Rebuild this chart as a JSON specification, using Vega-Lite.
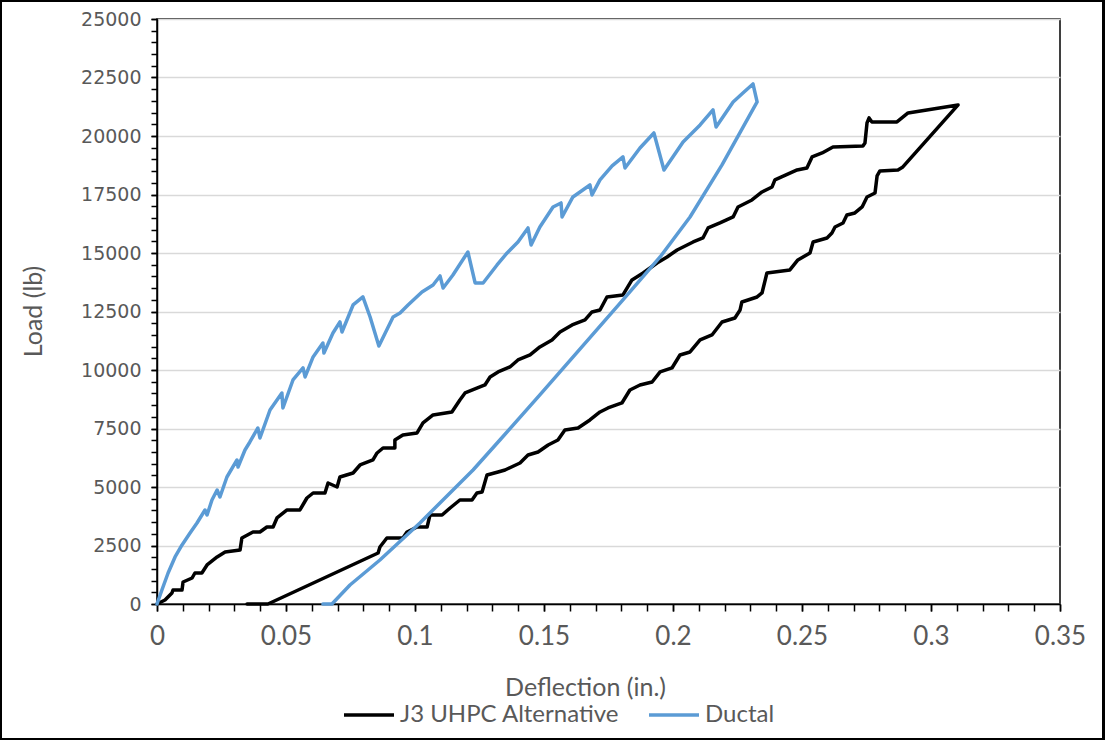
{
  "$schema": "https://vega.github.io/schema/vega-lite/v6.json",
  "width": 903,
  "height": 585,
  "autosize": {"type": "none"},
  "padding": {"left": 157, "top": 19, "right": 45, "bottom": 136},
  "background": "#ffffff",
  "config": {"view": {"stroke": "#000000", "strokeWidth": 1.5}},
  "data": {"values": [
    {"s": "J3 UHPC Alternative", "i": 1, "x": 0, "y": 0},
    {"s": "J3 UHPC Alternative", "i": 2, "x": 0.0031, "y": 171},
    {"s": "J3 UHPC Alternative", "i": 3, "x": 0.0058, "y": 470},
    {"s": "J3 UHPC Alternative", "i": 4, "x": 0.0062, "y": 598},
    {"s": "J3 UHPC Alternative", "i": 5, "x": 0.0097, "y": 598},
    {"s": "J3 UHPC Alternative", "i": 6, "x": 0.0101, "y": 940},
    {"s": "J3 UHPC Alternative", "i": 7, "x": 0.0136, "y": 1111},
    {"s": "J3 UHPC Alternative", "i": 8, "x": 0.0147, "y": 1325},
    {"s": "J3 UHPC Alternative", "i": 9, "x": 0.0174, "y": 1325},
    {"s": "J3 UHPC Alternative", "i": 10, "x": 0.0194, "y": 1667},
    {"s": "J3 UHPC Alternative", "i": 11, "x": 0.0233, "y": 2009},
    {"s": "J3 UHPC Alternative", "i": 12, "x": 0.0264, "y": 2222},
    {"s": "J3 UHPC Alternative", "i": 13, "x": 0.0322, "y": 2308},
    {"s": "J3 UHPC Alternative", "i": 14, "x": 0.0329, "y": 2821},
    {"s": "J3 UHPC Alternative", "i": 15, "x": 0.0372, "y": 3077},
    {"s": "J3 UHPC Alternative", "i": 16, "x": 0.0399, "y": 3077},
    {"s": "J3 UHPC Alternative", "i": 17, "x": 0.0426, "y": 3291},
    {"s": "J3 UHPC Alternative", "i": 18, "x": 0.045, "y": 3291},
    {"s": "J3 UHPC Alternative", "i": 19, "x": 0.0465, "y": 3676},
    {"s": "J3 UHPC Alternative", "i": 20, "x": 0.0504, "y": 4018},
    {"s": "J3 UHPC Alternative", "i": 21, "x": 0.0554, "y": 4018},
    {"s": "J3 UHPC Alternative", "i": 22, "x": 0.0581, "y": 4530},
    {"s": "J3 UHPC Alternative", "i": 23, "x": 0.0605, "y": 4744},
    {"s": "J3 UHPC Alternative", "i": 24, "x": 0.0651, "y": 4744},
    {"s": "J3 UHPC Alternative", "i": 25, "x": 0.0663, "y": 5172},
    {"s": "J3 UHPC Alternative", "i": 26, "x": 0.0698, "y": 5000},
    {"s": "J3 UHPC Alternative", "i": 27, "x": 0.0709, "y": 5428},
    {"s": "J3 UHPC Alternative", "i": 28, "x": 0.076, "y": 5599},
    {"s": "J3 UHPC Alternative", "i": 29, "x": 0.0787, "y": 5941},
    {"s": "J3 UHPC Alternative", "i": 30, "x": 0.0837, "y": 6155},
    {"s": "J3 UHPC Alternative", "i": 31, "x": 0.0853, "y": 6454},
    {"s": "J3 UHPC Alternative", "i": 32, "x": 0.0876, "y": 6667},
    {"s": "J3 UHPC Alternative", "i": 33, "x": 0.0922, "y": 6667},
    {"s": "J3 UHPC Alternative", "i": 34, "x": 0.0922, "y": 7009},
    {"s": "J3 UHPC Alternative", "i": 35, "x": 0.0953, "y": 7223},
    {"s": "J3 UHPC Alternative", "i": 36, "x": 0.1008, "y": 7309},
    {"s": "J3 UHPC Alternative", "i": 37, "x": 0.1031, "y": 7736},
    {"s": "J3 UHPC Alternative", "i": 38, "x": 0.107, "y": 8078},
    {"s": "J3 UHPC Alternative", "i": 39, "x": 0.1143, "y": 8206},
    {"s": "J3 UHPC Alternative", "i": 40, "x": 0.1174, "y": 8719},
    {"s": "J3 UHPC Alternative", "i": 41, "x": 0.1194, "y": 9018},
    {"s": "J3 UHPC Alternative", "i": 42, "x": 0.1271, "y": 9360},
    {"s": "J3 UHPC Alternative", "i": 43, "x": 0.1291, "y": 9702},
    {"s": "J3 UHPC Alternative", "i": 44, "x": 0.1322, "y": 9916},
    {"s": "J3 UHPC Alternative", "i": 45, "x": 0.1368, "y": 10129},
    {"s": "J3 UHPC Alternative", "i": 46, "x": 0.1399, "y": 10429},
    {"s": "J3 UHPC Alternative", "i": 47, "x": 0.1446, "y": 10642},
    {"s": "J3 UHPC Alternative", "i": 48, "x": 0.1484, "y": 10984},
    {"s": "J3 UHPC Alternative", "i": 49, "x": 0.1531, "y": 11283},
    {"s": "J3 UHPC Alternative", "i": 50, "x": 0.1562, "y": 11625},
    {"s": "J3 UHPC Alternative", "i": 51, "x": 0.1609, "y": 11924},
    {"s": "J3 UHPC Alternative", "i": 52, "x": 0.1659, "y": 12138},
    {"s": "J3 UHPC Alternative", "i": 53, "x": 0.1686, "y": 12480},
    {"s": "J3 UHPC Alternative", "i": 54, "x": 0.1717, "y": 12566},
    {"s": "J3 UHPC Alternative", "i": 55, "x": 0.1744, "y": 13121},
    {"s": "J3 UHPC Alternative", "i": 56, "x": 0.1806, "y": 13207},
    {"s": "J3 UHPC Alternative", "i": 57, "x": 0.1841, "y": 13848},
    {"s": "J3 UHPC Alternative", "i": 58, "x": 0.1884, "y": 14147},
    {"s": "J3 UHPC Alternative", "i": 59, "x": 0.1938, "y": 14574},
    {"s": "J3 UHPC Alternative", "i": 60, "x": 0.1977, "y": 14831},
    {"s": "J3 UHPC Alternative", "i": 61, "x": 0.2016, "y": 15130},
    {"s": "J3 UHPC Alternative", "i": 62, "x": 0.2078, "y": 15472},
    {"s": "J3 UHPC Alternative", "i": 63, "x": 0.2116, "y": 15643},
    {"s": "J3 UHPC Alternative", "i": 64, "x": 0.2136, "y": 16070},
    {"s": "J3 UHPC Alternative", "i": 65, "x": 0.2182, "y": 16284},
    {"s": "J3 UHPC Alternative", "i": 66, "x": 0.2233, "y": 16540},
    {"s": "J3 UHPC Alternative", "i": 67, "x": 0.2252, "y": 16968},
    {"s": "J3 UHPC Alternative", "i": 68, "x": 0.2306, "y": 17267},
    {"s": "J3 UHPC Alternative", "i": 69, "x": 0.2345, "y": 17609},
    {"s": "J3 UHPC Alternative", "i": 70, "x": 0.2384, "y": 17823},
    {"s": "J3 UHPC Alternative", "i": 71, "x": 0.2395, "y": 18122},
    {"s": "J3 UHPC Alternative", "i": 72, "x": 0.2481, "y": 18549},
    {"s": "J3 UHPC Alternative", "i": 73, "x": 0.2519, "y": 18635},
    {"s": "J3 UHPC Alternative", "i": 74, "x": 0.2539, "y": 19105},
    {"s": "J3 UHPC Alternative", "i": 75, "x": 0.2578, "y": 19276},
    {"s": "J3 UHPC Alternative", "i": 76, "x": 0.262, "y": 19532},
    {"s": "J3 UHPC Alternative", "i": 77, "x": 0.2736, "y": 19575},
    {"s": "J3 UHPC Alternative", "i": 78, "x": 0.2744, "y": 19703},
    {"s": "J3 UHPC Alternative", "i": 79, "x": 0.2752, "y": 20558},
    {"s": "J3 UHPC Alternative", "i": 80, "x": 0.276, "y": 20772},
    {"s": "J3 UHPC Alternative", "i": 81, "x": 0.2771, "y": 20600},
    {"s": "J3 UHPC Alternative", "i": 82, "x": 0.2868, "y": 20600},
    {"s": "J3 UHPC Alternative", "i": 83, "x": 0.2911, "y": 20985},
    {"s": "J3 UHPC Alternative", "i": 84, "x": 0.3105, "y": 21327},
    {"s": "J3 UHPC Alternative", "i": 85, "x": 0.2891, "y": 18677},
    {"s": "J3 UHPC Alternative", "i": 86, "x": 0.2872, "y": 18549},
    {"s": "J3 UHPC Alternative", "i": 87, "x": 0.2802, "y": 18506},
    {"s": "J3 UHPC Alternative", "i": 88, "x": 0.2791, "y": 18293},
    {"s": "J3 UHPC Alternative", "i": 89, "x": 0.2783, "y": 17566},
    {"s": "J3 UHPC Alternative", "i": 90, "x": 0.2752, "y": 17395},
    {"s": "J3 UHPC Alternative", "i": 91, "x": 0.2733, "y": 16968},
    {"s": "J3 UHPC Alternative", "i": 92, "x": 0.2705, "y": 16711},
    {"s": "J3 UHPC Alternative", "i": 93, "x": 0.2674, "y": 16625},
    {"s": "J3 UHPC Alternative", "i": 94, "x": 0.2659, "y": 16284},
    {"s": "J3 UHPC Alternative", "i": 95, "x": 0.2628, "y": 16113},
    {"s": "J3 UHPC Alternative", "i": 96, "x": 0.2616, "y": 15857},
    {"s": "J3 UHPC Alternative", "i": 97, "x": 0.2597, "y": 15643},
    {"s": "J3 UHPC Alternative", "i": 98, "x": 0.2543, "y": 15472},
    {"s": "J3 UHPC Alternative", "i": 99, "x": 0.2531, "y": 15002},
    {"s": "J3 UHPC Alternative", "i": 100, "x": 0.2484, "y": 14703},
    {"s": "J3 UHPC Alternative", "i": 101, "x": 0.2453, "y": 14275},
    {"s": "J3 UHPC Alternative", "i": 102, "x": 0.2364, "y": 14147},
    {"s": "J3 UHPC Alternative", "i": 103, "x": 0.2345, "y": 13292},
    {"s": "J3 UHPC Alternative", "i": 104, "x": 0.2326, "y": 13121},
    {"s": "J3 UHPC Alternative", "i": 105, "x": 0.2267, "y": 12907},
    {"s": "J3 UHPC Alternative", "i": 106, "x": 0.226, "y": 12565},
    {"s": "J3 UHPC Alternative", "i": 107, "x": 0.224, "y": 12224},
    {"s": "J3 UHPC Alternative", "i": 108, "x": 0.219, "y": 12052},
    {"s": "J3 UHPC Alternative", "i": 109, "x": 0.2151, "y": 11497},
    {"s": "J3 UHPC Alternative", "i": 110, "x": 0.2105, "y": 11283},
    {"s": "J3 UHPC Alternative", "i": 111, "x": 0.2066, "y": 10770},
    {"s": "J3 UHPC Alternative", "i": 112, "x": 0.2027, "y": 10642},
    {"s": "J3 UHPC Alternative", "i": 113, "x": 0.1996, "y": 10087},
    {"s": "J3 UHPC Alternative", "i": 114, "x": 0.195, "y": 9916},
    {"s": "J3 UHPC Alternative", "i": 115, "x": 0.1919, "y": 9488},
    {"s": "J3 UHPC Alternative", "i": 116, "x": 0.1872, "y": 9360},
    {"s": "J3 UHPC Alternative", "i": 117, "x": 0.1833, "y": 9146},
    {"s": "J3 UHPC Alternative", "i": 118, "x": 0.1802, "y": 8591},
    {"s": "J3 UHPC Alternative", "i": 119, "x": 0.1748, "y": 8377},
    {"s": "J3 UHPC Alternative", "i": 120, "x": 0.1717, "y": 8206},
    {"s": "J3 UHPC Alternative", "i": 121, "x": 0.1678, "y": 7864},
    {"s": "J3 UHPC Alternative", "i": 122, "x": 0.1632, "y": 7522},
    {"s": "J3 UHPC Alternative", "i": 123, "x": 0.1581, "y": 7437},
    {"s": "J3 UHPC Alternative", "i": 124, "x": 0.1554, "y": 7009},
    {"s": "J3 UHPC Alternative", "i": 125, "x": 0.1516, "y": 6796},
    {"s": "J3 UHPC Alternative", "i": 126, "x": 0.1477, "y": 6496},
    {"s": "J3 UHPC Alternative", "i": 127, "x": 0.1438, "y": 6368},
    {"s": "J3 UHPC Alternative", "i": 128, "x": 0.1407, "y": 6026},
    {"s": "J3 UHPC Alternative", "i": 129, "x": 0.1349, "y": 5727},
    {"s": "J3 UHPC Alternative", "i": 130, "x": 0.1322, "y": 5642},
    {"s": "J3 UHPC Alternative", "i": 131, "x": 0.1279, "y": 5513},
    {"s": "J3 UHPC Alternative", "i": 132, "x": 0.126, "y": 4787},
    {"s": "J3 UHPC Alternative", "i": 133, "x": 0.124, "y": 4744},
    {"s": "J3 UHPC Alternative", "i": 134, "x": 0.1221, "y": 4445},
    {"s": "J3 UHPC Alternative", "i": 135, "x": 0.1174, "y": 4445},
    {"s": "J3 UHPC Alternative", "i": 136, "x": 0.1136, "y": 4103},
    {"s": "J3 UHPC Alternative", "i": 137, "x": 0.1105, "y": 3804},
    {"s": "J3 UHPC Alternative", "i": 138, "x": 0.1058, "y": 3804},
    {"s": "J3 UHPC Alternative", "i": 139, "x": 0.1047, "y": 3291},
    {"s": "J3 UHPC Alternative", "i": 140, "x": 0.1008, "y": 3291},
    {"s": "J3 UHPC Alternative", "i": 141, "x": 0.0969, "y": 3077},
    {"s": "J3 UHPC Alternative", "i": 142, "x": 0.0953, "y": 2821},
    {"s": "J3 UHPC Alternative", "i": 143, "x": 0.0891, "y": 2821},
    {"s": "J3 UHPC Alternative", "i": 144, "x": 0.0864, "y": 2436},
    {"s": "J3 UHPC Alternative", "i": 145, "x": 0.0857, "y": 2180},
    {"s": "J3 UHPC Alternative", "i": 146, "x": 0.043, "y": 0},
    {"s": "J3 UHPC Alternative", "i": 147, "x": 0.0349, "y": 0},
    {"s": "Ductal", "i": 1, "x": 0, "y": 0},
    {"s": "Ductal", "i": 2, "x": 0.0019, "y": 598},
    {"s": "Ductal", "i": 3, "x": 0.0043, "y": 1325},
    {"s": "Ductal", "i": 4, "x": 0.007, "y": 2009},
    {"s": "Ductal", "i": 5, "x": 0.0097, "y": 2522},
    {"s": "Ductal", "i": 6, "x": 0.0128, "y": 3035},
    {"s": "Ductal", "i": 7, "x": 0.0155, "y": 3462},
    {"s": "Ductal", "i": 8, "x": 0.0186, "y": 4018},
    {"s": "Ductal", "i": 9, "x": 0.0194, "y": 3804},
    {"s": "Ductal", "i": 10, "x": 0.0213, "y": 4445},
    {"s": "Ductal", "i": 11, "x": 0.0233, "y": 4872},
    {"s": "Ductal", "i": 12, "x": 0.0244, "y": 4573},
    {"s": "Ductal", "i": 13, "x": 0.0271, "y": 5428},
    {"s": "Ductal", "i": 14, "x": 0.031, "y": 6155},
    {"s": "Ductal", "i": 15, "x": 0.0314, "y": 5855},
    {"s": "Ductal", "i": 16, "x": 0.0341, "y": 6582},
    {"s": "Ductal", "i": 17, "x": 0.036, "y": 6924},
    {"s": "Ductal", "i": 18, "x": 0.0391, "y": 7522},
    {"s": "Ductal", "i": 19, "x": 0.0399, "y": 7095},
    {"s": "Ductal", "i": 20, "x": 0.0438, "y": 8292},
    {"s": "Ductal", "i": 21, "x": 0.0484, "y": 9018},
    {"s": "Ductal", "i": 22, "x": 0.0488, "y": 8377},
    {"s": "Ductal", "i": 23, "x": 0.0527, "y": 9574},
    {"s": "Ductal", "i": 24, "x": 0.0566, "y": 10087},
    {"s": "Ductal", "i": 25, "x": 0.0574, "y": 9702},
    {"s": "Ductal", "i": 26, "x": 0.0605, "y": 10557},
    {"s": "Ductal", "i": 27, "x": 0.0643, "y": 11155},
    {"s": "Ductal", "i": 28, "x": 0.0647, "y": 10728},
    {"s": "Ductal", "i": 29, "x": 0.0682, "y": 11583},
    {"s": "Ductal", "i": 30, "x": 0.0709, "y": 12053},
    {"s": "Ductal", "i": 31, "x": 0.0717, "y": 11625},
    {"s": "Ductal", "i": 32, "x": 0.076, "y": 12779},
    {"s": "Ductal", "i": 33, "x": 0.0798, "y": 13121},
    {"s": "Ductal", "i": 34, "x": 0.0826, "y": 12266},
    {"s": "Ductal", "i": 35, "x": 0.086, "y": 11027},
    {"s": "Ductal", "i": 36, "x": 0.0915, "y": 12266},
    {"s": "Ductal", "i": 37, "x": 0.0942, "y": 12437},
    {"s": "Ductal", "i": 38, "x": 0.0973, "y": 12779},
    {"s": "Ductal", "i": 39, "x": 0.1027, "y": 13335},
    {"s": "Ductal", "i": 40, "x": 0.107, "y": 13634},
    {"s": "Ductal", "i": 41, "x": 0.1097, "y": 14019},
    {"s": "Ductal", "i": 42, "x": 0.1109, "y": 13506},
    {"s": "Ductal", "i": 43, "x": 0.1147, "y": 14061},
    {"s": "Ductal", "i": 44, "x": 0.1205, "y": 15044},
    {"s": "Ductal", "i": 45, "x": 0.1233, "y": 13720},
    {"s": "Ductal", "i": 46, "x": 0.1264, "y": 13720},
    {"s": "Ductal", "i": 47, "x": 0.1318, "y": 14489},
    {"s": "Ductal", "i": 48, "x": 0.1357, "y": 15002},
    {"s": "Ductal", "i": 49, "x": 0.1399, "y": 15472},
    {"s": "Ductal", "i": 50, "x": 0.1438, "y": 16070},
    {"s": "Ductal", "i": 51, "x": 0.145, "y": 15344},
    {"s": "Ductal", "i": 52, "x": 0.1484, "y": 16113},
    {"s": "Ductal", "i": 53, "x": 0.1535, "y": 16968},
    {"s": "Ductal", "i": 54, "x": 0.1566, "y": 17139},
    {"s": "Ductal", "i": 55, "x": 0.157, "y": 16540},
    {"s": "Ductal", "i": 56, "x": 0.1612, "y": 17395},
    {"s": "Ductal", "i": 57, "x": 0.1678, "y": 17908},
    {"s": "Ductal", "i": 58, "x": 0.1686, "y": 17481},
    {"s": "Ductal", "i": 59, "x": 0.1717, "y": 18122},
    {"s": "Ductal", "i": 60, "x": 0.1764, "y": 18720},
    {"s": "Ductal", "i": 61, "x": 0.1806, "y": 19105},
    {"s": "Ductal", "i": 62, "x": 0.1814, "y": 18635},
    {"s": "Ductal", "i": 63, "x": 0.1872, "y": 19489},
    {"s": "Ductal", "i": 64, "x": 0.1926, "y": 20131},
    {"s": "Ductal", "i": 65, "x": 0.1965, "y": 18549},
    {"s": "Ductal", "i": 66, "x": 0.2039, "y": 19746},
    {"s": "Ductal", "i": 67, "x": 0.2105, "y": 20472},
    {"s": "Ductal", "i": 68, "x": 0.2155, "y": 21114},
    {"s": "Ductal", "i": 69, "x": 0.2167, "y": 20387},
    {"s": "Ductal", "i": 70, "x": 0.2233, "y": 21455},
    {"s": "Ductal", "i": 71, "x": 0.2271, "y": 21840},
    {"s": "Ductal", "i": 72, "x": 0.231, "y": 22225},
    {"s": "Ductal", "i": 73, "x": 0.2326, "y": 21455},
    {"s": "Ductal", "i": 74, "x": 0.219, "y": 18763},
    {"s": "Ductal", "i": 75, "x": 0.2066, "y": 16540},
    {"s": "Ductal", "i": 76, "x": 0.195, "y": 14831},
    {"s": "Ductal", "i": 77, "x": 0.1806, "y": 12993},
    {"s": "Ductal", "i": 78, "x": 0.164, "y": 10899},
    {"s": "Ductal", "i": 79, "x": 0.1484, "y": 8933},
    {"s": "Ductal", "i": 80, "x": 0.1329, "y": 7009},
    {"s": "Ductal", "i": 81, "x": 0.1225, "y": 5727},
    {"s": "Ductal", "i": 82, "x": 0.1019, "y": 3462},
    {"s": "Ductal", "i": 83, "x": 0.0864, "y": 1880},
    {"s": "Ductal", "i": 84, "x": 0.0748, "y": 812},
    {"s": "Ductal", "i": 85, "x": 0.0678, "y": 0},
    {"s": "Ductal", "i": 86, "x": 0.0643, "y": 0}
  ]},
  "layer": [
    {
      "mark": {"type": "rect", "fill": null, "stroke": "#000000", "strokeWidth": 2, "clip": false},
      "encoding": {
        "x": {
          "datum": -0.0605, "type": "quantitative",
          "scale": {"domain": [0, 0.35], "nice": false, "zero": false},
          "axis": {
            "orient": "bottom",
            "values": [0, 0.01, 0.02, 0.03, 0.04, 0.05, 0.06, 0.07, 0.08, 0.09, 0.1, 0.11, 0.12, 0.13, 0.14, 0.15, 0.16, 0.17, 0.18, 0.19, 0.2, 0.21, 0.22, 0.23, 0.24, 0.25, 0.26, 0.27, 0.28, 0.29, 0.3, 0.31, 0.32, 0.33, 0.34, 0.35],
            "labels": false, "grid": false, "domain": false, "title": null,
            "tickColor": "#000000", "tickWidth": 1.5, "tickSize": 7
          }
        },
        "x2": {"datum": 0.367},
        "y": {
          "datum": 25770, "type": "quantitative",
          "scale": {"domain": [0, 25000], "nice": false, "zero": false},
          "axis": {
            "orient": "left",
            "values": [0, 500, 1000, 1500, 2000, 2500, 3000, 3500, 4000, 4500, 5000, 5500, 6000, 6500, 7000, 7500, 8000, 8500, 9000, 9500, 10000, 10500, 11000, 11500, 12000, 12500, 13000, 13500, 14000, 14500, 15000, 15500, 16000, 16500, 17000, 17500, 18000, 18500, 19000, 19500, 20000, 20500, 21000, 21500, 22000, 22500, 23000, 23500, 24000, 24500, 25000],
            "labels": false, "grid": false, "domain": false, "title": null,
            "tickColor": "#000000", "tickWidth": 1.5, "tickSize": 6
          }
        },
        "y2": {"datum": -5770}
      }
    },
    {
      "mark": {"type": "line", "strokeWidth": 3.5, "strokeJoin": "round", "strokeCap": "round"},
      "encoding": {
        "x": {
          "field": "x", "type": "quantitative",
          "scale": {"domain": [0, 0.35], "nice": false, "zero": false},
          "axis": {
            "orient": "bottom",
            "values": [0, 0.05, 0.1, 0.15, 0.2, 0.25, 0.3, 0.35],
            "format": "~g",
            "labelOverlap": false, "labelFlush": false,
            "grid": false,
            "domainColor": "#000000", "domainWidth": 1.5,
            "tickColor": "#000000", "tickWidth": 1.5, "tickSize": 7,
            "labelFont": "Lato", "labelFontSize": 26, "labelColor": "#595959", "labelPadding": 12,
            "title": "Deflection (in.)",
            "titleFont": "Lato", "titleFontSize": 25, "titleFontWeight": "normal", "titleColor": "#595959",
            "titleX": 428, "titleY": 91, "titleAlign": "center", "titleBaseline": "alphabetic"
          }
        },
        "y": {
          "field": "y", "type": "quantitative",
          "scale": {"domain": [0, 25000], "nice": false, "zero": false},
          "axis": {
            "orient": "left",
            "values": [0, 2500, 5000, 7500, 10000, 12500, 15000, 17500, 20000, 22500, 25000],
            "format": "d",
            "labelOverlap": false, "labelFlush": false,
            "grid": true, "gridColor": "#D9D9D9", "gridWidth": 1.5,
            "domainColor": "#000000", "domainWidth": 1.5,
            "tickColor": "#000000", "tickWidth": 1.5, "tickSize": 6,
            "labelFont": "DejaVu Sans", "labelFontSize": 19, "labelColor": "#595959", "labelPadding": 10,
            "title": "Load (lb)",
            "titleFont": "Lato", "titleFontSize": 25, "titleFontWeight": "normal", "titleColor": "#595959",
            "titleX": -124, "titleY": 292, "titleAlign": "center", "titleBaseline": "middle", "titleAngle": -90
          }
        },
        "color": {
          "field": "s", "type": "nominal",
          "scale": {"domain": ["J3 UHPC Alternative", "Ductal"], "range": ["#000000", "#5B9BD5"]},
          "legend": {
            "orient": "none", "legendX": 185, "legendY": 669, "direction": "horizontal",
            "title": null, "symbolType": "stroke", "symbolSize": 2500, "symbolStrokeWidth": 3.5,
            "labelFont": "Lato", "labelFontSize": 24, "labelColor": "#595959", "labelLimit": 400,
            "labelOffset": 4, "columnPadding": 22, "padding": 0
          }
        },
        "order": {"field": "i", "type": "quantitative"}
      }
    }
  ],
  "resolve": {
    "scale": {"x": "independent", "y": "independent"},
    "axis": {"x": "independent", "y": "independent"}
  }
}
